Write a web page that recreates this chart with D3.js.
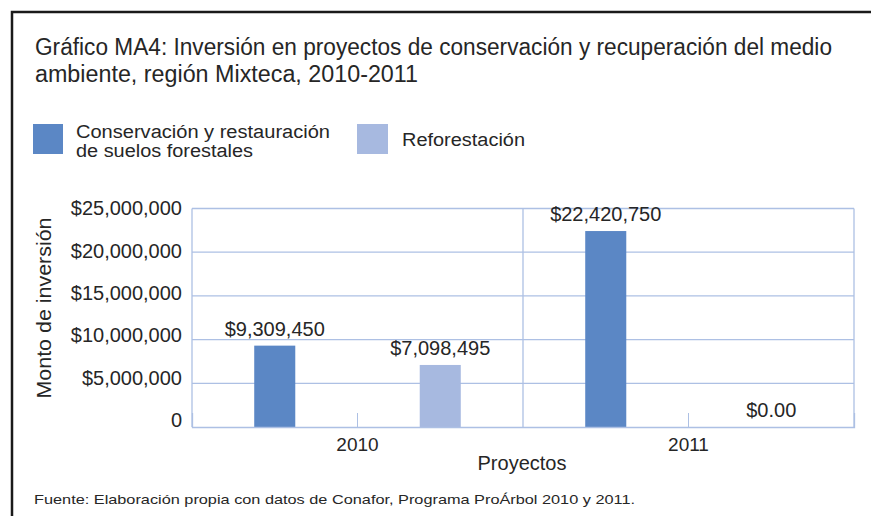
<!DOCTYPE html>
<html>
<head>
<meta charset="utf-8">
<script src="https://cdn.jsdelivr.net/npm/d3@7"></script>
<style>
body { margin: 0; background: #fff; }
svg text { font-family: "Liberation Sans", Arial, sans-serif; fill: #262626; }
</style>
</head>
<body>
<svg width="871" height="516"></svg>
<script>
// data
var years = ["2010", "2011"];
var series = ["Conservación y restauración de suelos forestales", "Reforestación"];
var conservacion = [9309450, 22420750];
var reforestacion = [7098495, 0];
var valueLabels = [["$9,309,450", "$7,098,495"], ["$22,420,750", "$0.00"]];
var yTicks = [0, 5000000, 10000000, 15000000, 20000000, 25000000];

var colors = ["#5b87c5", "#a7b9e0"];
var gridColor = "#adc0e4";

var svg = d3.select("svg"),
  width = +svg.attr("width"),
  height = +svg.attr("height");

// frame
svg.append("rect")
  .attr("x", 12).attr("y", 12)
  .attr("width", width + 20).attr("height", height + 20)
  .style("fill", "none")
  .style("stroke", "#1a1a1a")
  .style("stroke-width", 2.5);

// title
svg.append("text").attr("x", 35).attr("y", 55)
  .attr("font-size", 23)
  .attr("textLength", 797).attr("lengthAdjust", "spacingAndGlyphs")
  .text("Gráfico MA4: Inversión en proyectos de conservación y recuperación del medio");
svg.append("text").attr("x", 35).attr("y", 82)
  .attr("font-size", 23)
  .attr("textLength", 383).attr("lengthAdjust", "spacingAndGlyphs")
  .text("ambiente, región Mixteca, 2010-2011");

// legend
var legend = svg.append("g");
legend.append("rect").attr("x", 33).attr("y", 124).attr("width", 30).attr("height", 30).style("fill", colors[0]);
legend.append("text").attr("x", 76).attr("y", 138).attr("font-size", 18)
  .attr("textLength", 254).attr("lengthAdjust", "spacingAndGlyphs")
  .text("Conservación y restauración");
legend.append("text").attr("x", 76).attr("y", 157).attr("font-size", 18)
  .attr("textLength", 177).attr("lengthAdjust", "spacingAndGlyphs")
  .text("de suelos forestales");
legend.append("rect").attr("x", 357).attr("y", 124).attr("width", 31).attr("height", 30).style("fill", colors[1]);
legend.append("text").attr("x", 402).attr("y", 146).attr("font-size", 18)
  .attr("textLength", 123).attr("lengthAdjust", "spacingAndGlyphs")
  .text("Reforestación");

// scales
var plotLeft = 192, plotRight = 854, plotTop = 208.5, plotBottom = 427;

var x0 = d3.scaleBand().domain(years).range([plotLeft, plotRight]).padding(0);
var x1 = d3.scaleBand().domain(series).range([0, x0.bandwidth()])
  .paddingInner(0.752).paddingOuter(0.376);
var y = d3.scaleLinear().domain([0, 25000000]).range([plotBottom, plotTop]);

var plot = svg.append("g");

// horizontal grid
plot.selectAll("line.h").data(yTicks.slice(1)).enter().append("line")
  .attr("x1", plotLeft).attr("x2", plotRight)
  .attr("y1", function (d) { return y(d); })
  .attr("y2", function (d) { return y(d); })
  .style("stroke", gridColor).style("stroke-width", 1.3);

// vertical category dividers
var dividers = years.map(function (d) { return x0(d); }).concat([plotRight]);
plot.selectAll("line.v").data(dividers).enter().append("line")
  .attr("x1", function (d) { return d; }).attr("x2", function (d) { return d; })
  .attr("y1", plotTop).attr("y2", plotBottom)
  .style("stroke", gridColor).style("stroke-width", 1.3);

// bars
var rows = years.map(function (yr, i) {
  return { year: yr, values: [conservacion[i], reforestacion[i]], labels: valueLabels[i] };
});

var groups = plot.selectAll("g.year").data(rows).enter().append("g")
  .attr("class", "year")
  .attr("transform", function (d) { return "translate(" + x0(d.year) + ",0)"; });

groups.selectAll("rect").data(function (d) {
  return d.values.map(function (v, j) { return { s: series[j], v: v, j: j }; });
}).enter().append("rect")
  .attr("x", function (d) { return x1(d.s); })
  .attr("width", x1.bandwidth())
  .attr("y", function (d) { return y(d.v); })
  .attr("height", function (d) { return plotBottom - y(d.v); })
  .style("fill", function (d) { return colors[d.j]; });

groups.selectAll("text").data(function (d) {
  return d.values.map(function (v, j) { return { s: series[j], v: v, label: d.labels[j] }; });
}).enter().append("text")
  .attr("x", function (d) { return x1(d.s) + x1.bandwidth() / 2; })
  .attr("y", function (d) { return y(d.v) - 10; })
  .attr("text-anchor", "middle")
  .attr("font-size", 20)
  .text(function (d) { return d.label; });

// x axis
var xAxis = plot.append("g")
  .attr("transform", "translate(0," + plotBottom + ")")
  .call(d3.axisBottom(x0).tickSize(-14).tickPadding(11));
xAxis.select(".domain").style("stroke", gridColor).style("stroke-width", 1.3);
xAxis.selectAll(".tick line").style("stroke", gridColor).style("stroke-width", 1);
xAxis.selectAll(".tick text").attr("font-size", 19).style("font-family", "Liberation Sans, Arial, sans-serif").style("fill", "#262626");

// y axis
var yAxis = plot.append("g")
  .attr("transform", "translate(" + plotLeft + ",0)")
  .call(d3.axisLeft(y).tickValues(yTicks).tickSize(0).tickPadding(10)
    .tickFormat(function (d) { return d === 0 ? "0" : "$" + d3.format(",")(d); }));
yAxis.select(".domain").remove();
yAxis.selectAll(".tick text")
  .attr("font-size", 20)
  .attr("y", function (d) { return -7 * (1 - d / 25000000); })
  .style("font-family", "Liberation Sans, Arial, sans-serif")
  .style("fill", "#262626");

// axis titles
svg.append("text")
  .attr("transform", "translate(51,308) rotate(-90)")
  .attr("text-anchor", "middle")
  .attr("font-size", 20)
  .attr("textLength", 181).attr("lengthAdjust", "spacingAndGlyphs")
  .text("Monto  de inversión");

svg.append("text")
  .attr("x", 522).attr("y", 470)
  .attr("text-anchor", "middle")
  .attr("font-size", 20)
  .text("Proyectos");

// source
svg.append("text").attr("x", 34).attr("y", 504)
  .attr("font-size", 13.5)
  .attr("textLength", 601).attr("lengthAdjust", "spacingAndGlyphs")
  .text("Fuente: Elaboración propia con datos de Conafor, Programa ProÁrbol 2010 y 2011.");
</script>
</body>
</html>
